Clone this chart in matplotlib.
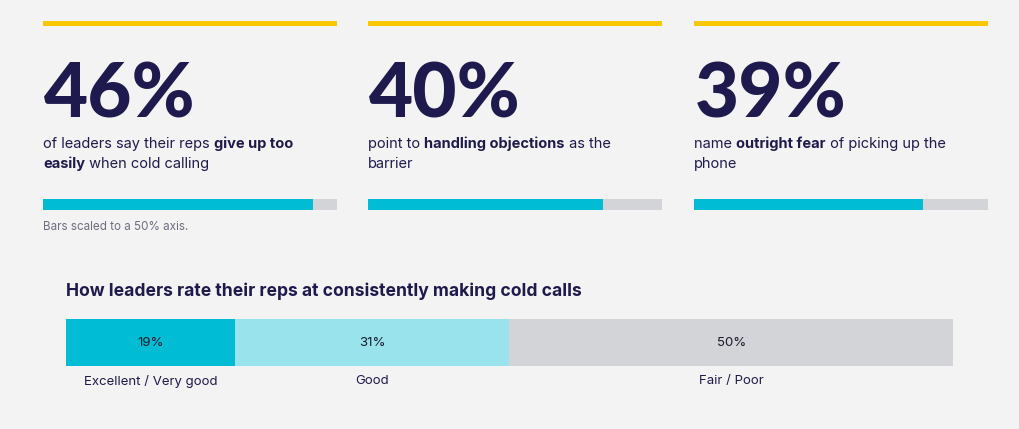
import matplotlib
matplotlib.use("Agg")
import matplotlib.pyplot as plt
from matplotlib.patches import Rectangle

# ---- data ----
stat_values = [46, 40, 39]
stat_labels = ["46%", "40%", "39%"]
stat_lines = [
    [[("of leaders say their reps ", False), ("give up too", True)],
     [("easily", True), (" when cold calling", False)]],
    [[("point to ", False), ("handling objections", True), (" as the", False)],
     [("barrier", False)]],
    [[("name ", False), ("outright fear", True), (" of picking up the", False)],
     [("phone", False)]],
]
axis_max = 50
footnote = "Bars scaled to a 50% axis."

rating_title = "How leaders rate their reps at consistently making cold calls"
rating_categories = ["Excellent / Very good", "Good", "Fair / Poor"]
rating_values = [19, 31, 50]
rating_colors = ["#00bcd4", "#98e3ec", "#d3d4d8"]

# ---- style ----
W, H = 1020, 429
BG = "#f3f3f3"
NAVY = "#1f1a4d"
YELLOW = "#f8c803"
TEAL = "#00bcd4"
GRAY = "#d3d4d8"
FONT = "Inter"
BIGFONT = "Lato"

fig = plt.figure(figsize=(W / 100, H / 100), dpi=100, facecolor=BG)


def px_axes(x0, y0, x1, y1):
    ax = fig.add_axes([x0 / W, 1 - y1 / H, (x1 - x0) / W, (y1 - y0) / H])
    ax.set_axis_off()
    return ax


renderer = fig.canvas.get_renderer()


def rich_line(x_px, y_px, parts, size):
    x = x_px
    for txt, bold in parts:
        t = fig.text(x / W, 1 - y_px / H, txt, fontsize=size, family=FONT,
                     fontweight="bold" if bold else "normal", color=NAVY,
                     va="baseline", ha="left")
        bb = t.get_window_extent(renderer=renderer)
        x += bb.width


card_x = [(43, 337), (368, 662), (694, 988)]
for (x0, x1), val, lab, lines in zip(card_x, stat_values, stat_labels, stat_lines):
    # yellow top rule
    fig.patches.append(Rectangle((x0 / W, 1 - 26 / H), (x1 - x0) / W, 5 / H,
                                 transform=fig.transFigure, color=YELLOW, lw=0))
    # big number
    fig.text((x0 + 1) / W, 1 - 117 / H, lab, fontsize=55, family=BIGFONT,
             fontweight="black", color=NAVY, va="baseline", ha="left")
    # description
    for i, parts in enumerate(lines):
        rich_line(x0, 148 + i * 20, parts, 10.5)
    # progress bar
    ax = px_axes(x0, 199, x1, 210)
    ax.barh([0], [axis_max], height=1, color=GRAY, lw=0)
    ax.barh([0], [val], height=1, color=TEAL, lw=0)
    ax.set_xlim(0, axis_max)
    ax.set_ylim(-0.5, 0.5)

fig.text(43 / W, 1 - 230 / H, footnote, fontsize=8.4, family=FONT,
         color="#6e6d80", va="baseline", ha="left")

# ---- stacked rating bar ----
fig.text(66 / W, 1 - 296 / H, rating_title, fontsize=12.6, family=FONT,
         fontweight="bold", color=NAVY, va="baseline", ha="left")

ax = px_axes(66, 319, 953, 366)
left = 0
for cat, v, c in zip(rating_categories, rating_values, rating_colors):
    ax.barh([0], [v], left=left, height=1, color=c, lw=0)
    ax.text(left + v / 2, 0, f"{v}%", ha="center", va="center",
            fontsize=9.5, family=FONT, color="#1a1a2a")
    ax.text(left + v / 2, -0.82, cat, ha="center", va="center",
            fontsize=9.5, family=FONT, color=NAVY)
    left += v
ax.set_xlim(0, sum(rating_values))
ax.set_ylim(-0.5, 0.5)

fig.savefig("out.png", dpi=100, facecolor=BG)
